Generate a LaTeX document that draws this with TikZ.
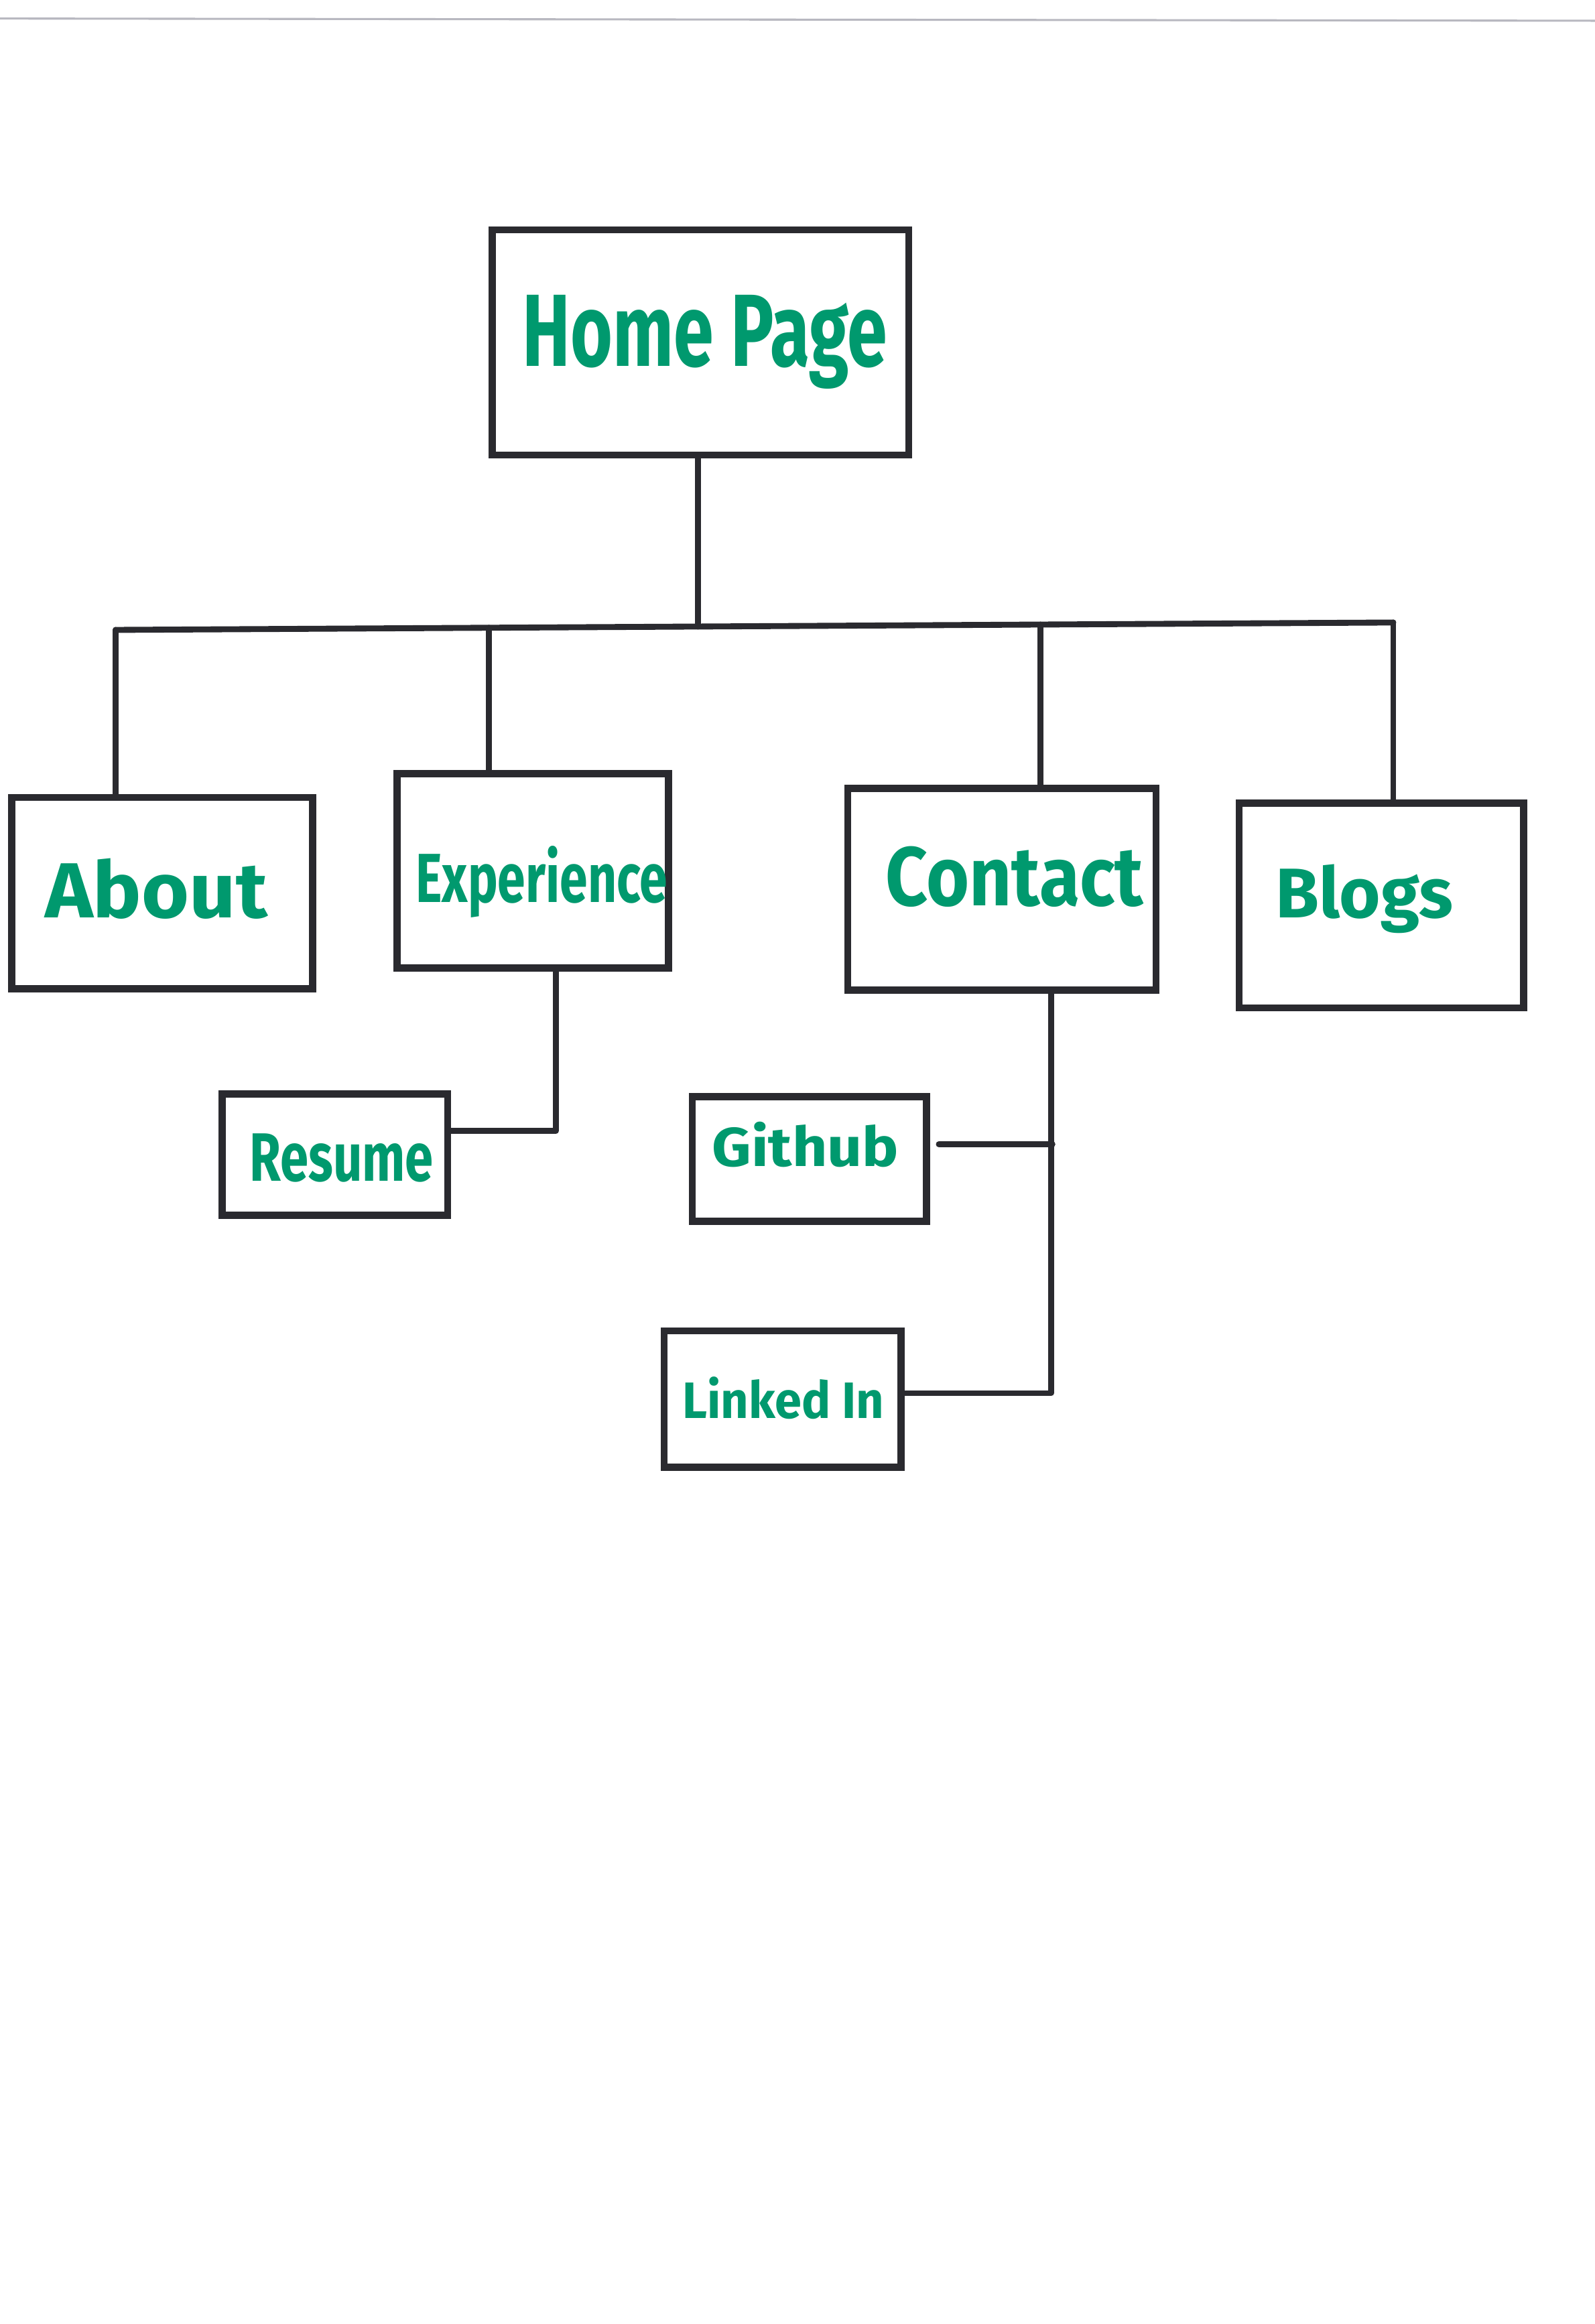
\documentclass[tikz,border=0pt]{standalone}
\usepackage{fontspec}
\setmainfont{Fira Sans}
\usepackage{graphicx}
\usetikzlibrary{calc}
\definecolor{ink}{HTML}{2A2A2F}
\definecolor{pen}{HTML}{00996E}
\definecolor{scanline}{HTML}{B8B8C0}
\begin{document}
\begin{tikzpicture}[x=0.5pt,y=-0.5pt,
  box/.style={draw=ink, line width=2.4pt, inner sep=0pt, rectangle},
  lbl/.style={text=pen, inner sep=0pt, anchor=base west, font=\bfseries},
  wire/.style={draw=ink, line width=2pt, line cap=round, line join=round}]
\useasboundingbox[fill=white] (0,0) rectangle (1076,1568);
\draw[scanline, line width=0.7pt] (0,12.5) -- (1076,14);

% boxes
\node[box, minimum width=140.5pt, minimum height=76pt] (home) at (472.5,231) {};
\node[box, minimum width=101.5pt, minimum height=64.5pt] (about) at (109.5,602.5) {};
\node[box, minimum width=91.5pt, minimum height=65.5pt] (exp) at (359.5,587.5) {};
\node[box, minimum width=104pt, minimum height=68pt] (contact) at (676,600) {};
\node[box, minimum width=96pt, minimum height=69pt] (blogs) at (932,611) {};
\node[box, minimum width=76pt, minimum height=41pt] (resume) at (226,779) {};
\node[box, minimum width=79pt, minimum height=42pt] (github) at (546,782) {};
\node[box, minimum width=80pt, minimum height=46pt] (linkedin) at (528,944) {};

% labels
\node[lbl] (homet) at (352,247) {\resizebox{123pt}{24pt}{Home Page}};
\node[lbl] (aboutt) at (30,619) {\resizebox{75pt}{20pt}{About}};
\node[lbl] (expt) at (280,609) {\resizebox{85pt}{19pt}{Experience}};
\node[lbl] (contactt) at (597,611) {\resizebox{87pt}{20pt}{Contact}};
\node[lbl] (blogst) at (860,619) {\resizebox{60pt}{18pt}{Blogs}};
\node[lbl] (resumet) at (168,797) {\resizebox{62pt}{16pt}{Resume}};
\node[lbl] (githubt) at (480,787) {\resizebox{63pt}{15pt}{Github}};
\node[lbl] (linkedint) at (460,957) {\resizebox{68pt}{14pt}{Linked In}};

% connector junctions
\coordinate (busL) at (78,425);
\coordinate (busR) at (940,420);
\coordinate (hub) at ($(busL)!0.456!(busR)$);
\coordinate (busE) at ($(busL)!0.2923!(busR)$);
\coordinate (busC) at ($(busL)!0.7239!(busR)$);
\coordinate (ej) at (375,763);
\coordinate (cj) at (709,940);
\coordinate (gj) at (710,772);

% connectors
\draw[wire] (home.south -| hub) -- (hub);
\draw[wire] (busL) -- (busR);
\draw[wire] (busL) -- (busL |- about.north);
\draw[wire] (busE) -- (busE |- exp.north);
\draw[wire] (busC) -- (busC |- contact.north);
\draw[wire] (busR) -- (busR |- blogs.north);
\draw[wire] (ej |- exp.south) -- (ej) -- (ej -| resume.east);
\draw[wire] (cj |- contact.south) -- (cj) -- (cj -| linkedin.east);
\draw[wire] ([xshift=3pt]gj -| github.east) -- (gj);
\end{tikzpicture}
\end{document}
